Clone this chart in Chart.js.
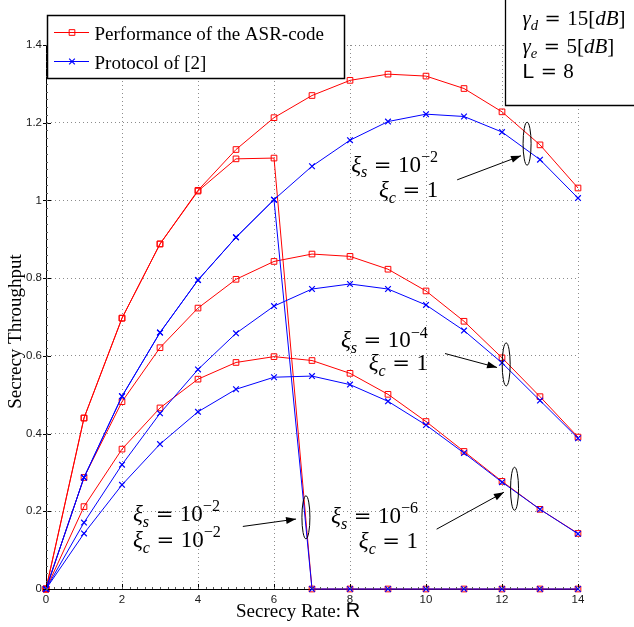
<!DOCTYPE html>
<html>
<head>
<meta charset="utf-8">
<script src="https://cdn.jsdelivr.net/npm/chart.js@4.4.0/dist/chart.umd.min.js"></script>
<style>
html,body{margin:0;padding:0;background:#fff;}
canvas{display:block;}
</style>
</head>
<body>
<canvas id="c" width="634" height="627"></canvas>
<script>
// ---------- data ----------
const rates = [0,1,2,3,4,5,6,7,8,9,10,11,12,13,14];
const xTicks = [0,2,4,6,8,10,12,14];
const yTicks = [0,0.2,0.4,0.6,0.8,1.0,1.2,1.4];

// xi_s = 1e-2, xi_c = 1
const asrS2C1   = [0,0.440,0.697,0.888,1.026,1.131,1.213,1.270,1.309,1.325,1.320,1.288,1.228,1.143,1.032];
const protoS2C1 = [0,0.287,0.496,0.660,0.795,0.905,1.002,1.088,1.155,1.203,1.222,1.216,1.176,1.105,1.006];
// xi_s = 1e-2, xi_c = 1e-2
const asrS2C2   = [0,0.440,0.697,0.888,1.024,1.107,1.109,0,0,0,0,0,0,0,0];
const protoS2C2 = [0,0.287,0.496,0.660,0.795,0.905,1.002,0,0,0,0,0,0,0,0];
// xi_s = 1e-4, xi_c = 1
const asrS4C1   = [0,0.287,0.482,0.621,0.723,0.797,0.843,0.862,0.856,0.823,0.767,0.689,0.595,0.495,0.391];
const protoS4C1 = [0,0.171,0.320,0.452,0.565,0.658,0.728,0.772,0.785,0.772,0.731,0.665,0.582,0.485,0.388];
// xi_s = 1e-6, xi_c = 1
const asrS6C1   = [0,0.212,0.360,0.466,0.540,0.583,0.598,0.588,0.555,0.501,0.431,0.354,0.277,0.205,0.143];
const protoS6C1 = [0,0.143,0.268,0.373,0.456,0.514,0.545,0.548,0.526,0.483,0.422,0.350,0.275,0.205,0.142];

const seriesNames = ['Performance of the ASR-code', 'Protocol of [2]'];
const xTitle = 'Secrecy Rate: ';
const xTitleVar = 'R';
const yTitle = 'Secrecy Throughput';

// ---------- styles ----------
const RED = '#ff0000', BLUE = '#0000ff';
const SERIF = '"Liberation Serif","Times New Roman",serif';
const SANS = '"Liberation Sans",Arial,Helvetica,sans-serif';
const EQF = '"DejaVu Serif",serif';

function toPts(arr){ return rates.map((r,i)=>({x:r,y:arr[i]})); }
function asrSet(arr){ return {label:seriesNames[0], data:toPts(arr), borderColor:RED, backgroundColor:'rgba(0,0,0,0)',
  borderWidth:1, pointStyle:'rect', pointRadius:4, pointBorderWidth:1, pointBorderColor:RED, pointBackgroundColor:'rgba(0,0,0,0)', tension:0, clip:false}; }
function protoSet(arr){ return {label:seriesNames[1], data:toPts(arr), borderColor:BLUE, backgroundColor:'rgba(0,0,0,0)',
  borderWidth:1, pointStyle:'crossRot', pointRadius:4, pointBorderWidth:1.2, pointBorderColor:BLUE, pointBackgroundColor:'rgba(0,0,0,0)', tension:0, clip:false}; }

// ---------- math text helper ----------
function drawRuns(ctx, runs, x, y, align, size){
  const items = runs.map(r=>{
    if (r.gap) return {w:r.gap, gap:true};
    let s = (r.sub||r.sup) ? size*0.7 : size;
    let fam = r.sans ? SANS : SERIF;
    if (r.eq){ fam = EQF; s = size*0.92; }
    const font = (r.it?'italic ':'') + s + 'px ' + fam;
    ctx.font = font;
    return {t:r.t, font, w:ctx.measureText(r.t).width, dy: r.sub ? size*0.25 : (r.sup ? -size*0.42 : 0)};
  });
  const total = items.reduce((a,b)=>a+b.w,0);
  let cx = align==='right' ? x-total : x;
  ctx.textAlign='left'; ctx.textBaseline='alphabetic'; ctx.fillStyle='#000';
  items.forEach(it=>{ if(!it.gap){ ctx.font=it.font; ctx.fillText(it.t,cx,y+it.dy);} cx+=it.w; });
}
const G = 6.5;
function xiEq(sub, rhs, exp){
  const r = [{t:'ξ',it:1},{t:sub,it:1,sub:1},{gap:G},{t:'=',eq:1},{gap:G},{t:rhs}];
  if (exp) r.push({t:'−'+exp, sup:1});
  return r;
}
function arrow(ctx,x1,y1,x2,y2){
  ctx.beginPath(); ctx.moveTo(x1,y1); ctx.lineTo(x2,y2); ctx.stroke();
  const a = Math.atan2(y2-y1,x2-x1), L=10, W=3.5;
  ctx.beginPath();
  ctx.moveTo(x2,y2);
  ctx.lineTo(x2-L*Math.cos(a)+W*Math.sin(a), y2-L*Math.sin(a)-W*Math.cos(a));
  ctx.lineTo(x2-L*Math.cos(a)-W*Math.sin(a), y2-L*Math.sin(a)+W*Math.cos(a));
  ctx.closePath(); ctx.fill();
}

// annotation groups (anchors in data units)
const annotations = [
  {ell:[12.66,1.146], from:[10.82,1.053], to:[12.50,1.115], tx:10.32, align:'right', rows:[[xiEq('s','10','2'),1.074],[xiEq('c','1'),1.009]]},
  {ell:[12.11,0.578], from:[10.50,0.606], to:[11.87,0.570], tx:10.05, align:'right', rows:[[xiEq('s','10','4'),0.622],[xiEq('c','1'),0.563]]},
  {ell:[12.33,0.258], from:[10.28,0.154], to:[12.05,0.249], tx:9.79,  align:'right', rows:[[xiEq('s','10','6'),0.170],[xiEq('c','1'),0.106]]},
  {ell:[6.84,0.1845], from:[5.18,0.161], to:[6.58,0.180], tx:2.29,  align:'left',  rows:[[xiEq('s','10','2'),0.1755],[xiEq('c','10','2'),0.108]]}
];

const decor = {
  id:'decor',
  afterDraw(chart){
    const {ctx, chartArea:a, scales:{x,y}} = chart;
    ctx.save();
    // major ticks
    ctx.strokeStyle='#000'; ctx.lineWidth=1;
    ctx.beginPath();
    xTicks.forEach(v=>{const p=Math.round(x.getPixelForValue(v))+0.5; ctx.moveTo(p,a.bottom); ctx.lineTo(p,a.bottom-5);});
    yTicks.forEach(v=>{const p=Math.round(y.getPixelForValue(v))+0.5; ctx.moveTo(a.left-3,p); ctx.lineTo(a.left+5,p);});
    ctx.stroke();
    // minor ticks
    ctx.strokeStyle='#555'; ctx.beginPath();
    for(let i=0;i<=70;i++){ const p=Math.round(x.getPixelForValue(i/5))+0.5; ctx.moveTo(p,a.bottom); ctx.lineTo(p,a.bottom-2);}
    for(let i=0;i<=70;i++){ const p=Math.round(y.getPixelForValue(i/50))+0.5; ctx.moveTo(a.left,p); ctx.lineTo(a.left+2,p);}
    ctx.stroke();

    // legend
    ctx.fillStyle='#fff'; ctx.fillRect(47,15,298,64);
    ctx.strokeStyle='#000'; ctx.lineWidth=1.5; ctx.strokeRect(47.5,15.5,297,63);
    const legendRows = [[chart.data.datasets.find(d=>d.label===seriesNames[0]),32.5,39.5],[chart.data.datasets.find(d=>d.label===seriesNames[1]),61.5,68.5]];
    legendRows.forEach(([ds,ly,by])=>{
      ctx.strokeStyle=ds.borderColor; ctx.lineWidth=1;
      ctx.beginPath(); ctx.moveTo(54,ly); ctx.lineTo(89,ly); ctx.stroke();
      ctx.fillStyle='rgba(0,0,0,0)'; ctx.lineWidth=ds.pointBorderWidth;
      Chart.helpers.drawPoint(ctx,{pointStyle:ds.pointStyle,radius:ds.pointRadius,borderWidth:ds.pointBorderWidth,rotation:0},72,ly);
      ctx.fillStyle='#000'; ctx.font='19px '+SERIF; ctx.textAlign='left'; ctx.textBaseline='alphabetic';
      ctx.fillText(ds.label,94.5,by);
    });

    // parameter box
    ctx.fillStyle='#fff'; ctx.fillRect(505,-2,140,108);
    ctx.strokeStyle='#000'; ctx.lineWidth=1.3;
    ctx.beginPath(); ctx.moveTo(505.5,-2); ctx.lineTo(505.5,105.5); ctx.lineTo(640,105.5); ctx.stroke();
    drawRuns(ctx,[{t:'γ',it:1},{t:'d',it:1,sub:1},{gap:G},{t:'=',eq:1},{gap:G},{t:'15['},{t:'dB',it:1},{t:']'}],522.5,25,'left',21);
    drawRuns(ctx,[{t:'γ',it:1},{t:'e',it:1,sub:1},{gap:G},{t:'=',eq:1},{gap:G},{t:'5['},{t:'dB',it:1},{t:']'}],522.5,53,'left',21);
    drawRuns(ctx,[{t:'L',sans:1},{gap:G},{t:'=',eq:1},{gap:G},{t:'8'}],522.5,78,'left',21);

    // annotations
    annotations.forEach(an=>{
      ctx.strokeStyle='#000'; ctx.fillStyle='#000'; ctx.lineWidth=1;
      ctx.beginPath(); ctx.ellipse(x.getPixelForValue(an.ell[0]), y.getPixelForValue(an.ell[1]), 4, 21.5, 0, 0, Math.PI*2); ctx.stroke();
      arrow(ctx, x.getPixelForValue(an.from[0]), y.getPixelForValue(an.from[1]), x.getPixelForValue(an.to[0]), y.getPixelForValue(an.to[1]));
      an.rows.forEach(([runs,yv])=> drawRuns(ctx, runs, x.getPixelForValue(an.tx), y.getPixelForValue(yv), an.align, 23));
    });

    // axis titles
    ctx.fillStyle='#000'; ctx.textBaseline='alphabetic'; ctx.textAlign='left';
    ctx.font='19px '+SERIF;
    const w1 = ctx.measureText(xTitle).width;
    ctx.fillText(xTitle,236,616.5);
    ctx.font='20px '+SANS;
    ctx.fillText(xTitleVar,236+w1,616.5);
    ctx.save();
    ctx.translate(21,331.5); ctx.rotate(-Math.PI/2);
    ctx.font='19px '+SERIF; ctx.textAlign='center';
    ctx.fillText(yTitle,0,0);
    ctx.restore();
    ctx.restore();
  }
};

const gridOpts = {color:'#8c8c8c', lineWidth:1, drawTicks:false};
const tickFont = {family:SANS, size:11.5};

new Chart(document.getElementById('c'),{
  type:'line',
  data:{datasets:[
    protoSet(protoS2C1), protoSet(protoS2C2), protoSet(protoS4C1), protoSet(protoS6C1),
    asrSet(asrS2C1), asrSet(asrS2C2), asrSet(asrS4C1), asrSet(asrS6C1)
  ]},
  options:{
    responsive:false, animation:false, events:[],
    layout:{padding:{left:0,top:45,right:56,bottom:0}},
    plugins:{legend:{display:false}, tooltip:{enabled:false}},
    scales:{
      x:{type:'linear', min:0, max:14,
         afterBuildTicks:s=>{s.ticks=xTicks.map(v=>({value:v}));},
         ticks:{font:tickFont,color:'#1a1a1a',padding:4,maxRotation:0,autoSkip:false,callback:v=>String(v)},
         grid:gridOpts, border:{display:true,color:'#000',width:1,dash:[1,3]},
         afterFit:s=>{s.height=38;}},
      y:{type:'linear', min:0, max:1.4,
         afterBuildTicks:s=>{s.ticks=yTicks.map(v=>({value:v}));},
         ticks:{font:tickFont,color:'#1a1a1a',padding:4,callback:v=>String(+(+v).toFixed(1))},
         grid:gridOpts, border:{display:true,color:'#000',width:1,dash:[1,3]},
         afterFit:s=>{s.width=46;}}
    }
  },
  plugins:[decor]
});
</script>
</body>
</html>
